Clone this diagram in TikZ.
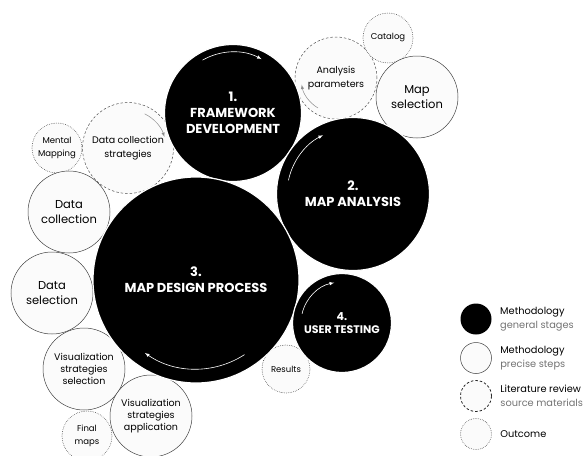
\documentclass[tikz,border=0pt]{standalone}
\usepackage{fontspec}
\setmainfont{Poppins}
\usetikzlibrary{positioning}

\begin{document}
\begin{tikzpicture}[x=1pt,y=1pt]
  \tikzset{ stage/.style={circle,draw=white,line width=1.2pt,fill=black,text=white,inner sep=0pt,
      align=center,font=\bfseries\fontsize{13}{16}\selectfont},
    precise/.style={circle,draw=black!75,line width=0.5pt,fill=black!1.5,inner sep=0pt,
      align=center,font=\fontsize{11.5}{15}\selectfont},
    review/.style={precise,draw=black!70,dash pattern=on 2.5pt off 2pt,font=\fontsize{9.5}{13.5}\selectfont},
    outcome/.style={precise,draw=black!75,line width=0.8pt,line cap=round,dash pattern=on 0pt off 1.8pt,
      font=\fontsize{8.5}{12.5}\selectfont},
    small/.style={font=\fontsize{9.5}{12}\selectfont},
    stagearrow/.style={white,line width=0.6pt,-latex},
    steparrow/.style={black!45,line width=0.5pt,-latex},
    legend/.style={align=left,font=\fontsize{9.8}{14}\selectfont},
  }
  \useasboundingbox (0,0) rectangle (585,-455);

  % sources and outcomes
  \node[outcome,minimum size=50pt] (mental) at (57,-148) {Mental\\Mapping};
  \node[review,minimum size=91pt] (dcs) at (128,-148) {Data collection\\strategies};
  \node[review,minimum size=82pt] (ap) at (336,-78) {Analysis\\parameters};
  \node[outcome,minimum size=50pt] (catalog) at (388,-38) {Catalog};
  \node[outcome,minimum size=50pt] (final) at (87,-436) {Final\\maps};
  \node[outcome,minimum size=48pt] (results) at (286,-369) {Results};

  % precise steps
  \node[precise,minimum size=82pt] (mapsel) at (417,-97) {Map\\selection};
  \node[precise,minimum size=82pt] (dcol) at (69,-212) {Data\\collection};
  \node[precise,minimum size=82pt] (dsel) at (52,-293) {Data\\selection};
  \node[precise,small,minimum size=82pt] (vss) at (84,-369) {Visualization\\strategies\\selection};
  \node[precise,small,minimum size=82pt] (vsa) at (151,-416) {Visualization\\strategies\\application};

  % general stages
  \node[stage,minimum size=137pt] (fw) at (233,-113) {1.\\FRAMEWORK\\DEVELOPMENT};
  \node[stage,minimum size=153pt] (ma) at (353,-194) {2.\\MAP ANALYSIS};
  \node[stage,minimum size=206pt] (mdp) at (196,-280) {3.\\MAP DESIGN PROCESS};
  \node[stage,minimum size=99pt,font=\bfseries\fontsize{11}{13}\selectfont] (ut) at (342,-323) {4.\\USER TESTING};

  % direction of each stage
  \draw[stagearrow] ([shift={(120:61)}]fw.center) arc[start angle=120,end angle=62,radius=61];
  \draw[stagearrow] ([shift={(168:66)}]ma.center) arc[start angle=168,end angle=117,radius=66];
  \draw[stagearrow] ([shift={(-57:89)}]mdp.center) arc[start angle=-57,end angle=-125,radius=89];
  \draw[stagearrow] ([shift={(167:41)}]ut.center) arc[start angle=167,end angle=101,radius=41];
  \draw[steparrow] ([shift={(64:38)}]dcs.center) arc[start angle=64,end angle=17,radius=38];
  \draw[steparrow] ([shift={(-121:35)}]ap.center) arc[start angle=-121,end angle=-169,radius=35];

  % legend
  \node[circle,fill=black,minimum size=31pt] (lg1) at (476,-319) {};
  \node[precise,minimum size=31pt] (lg2) at (476,-358) {};
  \node[review,draw=black!85,line width=0.8pt,minimum size=31pt] (lg3) at (476,-396) {};
  \node[outcome,minimum size=31pt] (lg4) at (476,-434) {};
  \node[legend,right=5pt of lg1] (t1) {Methodology\\\textcolor{black!55}{general stages}};
  \node[legend,right=5pt of lg2] (t2) {Methodology\\\textcolor{black!55}{precise steps}};
  \node[legend,right=5pt of lg3] (t3) {Literature review\\\textcolor{black!55}{source materials}};
  \node[legend,right=5pt of lg4] (t4) {Outcome};

\end{tikzpicture}
\end{document}
